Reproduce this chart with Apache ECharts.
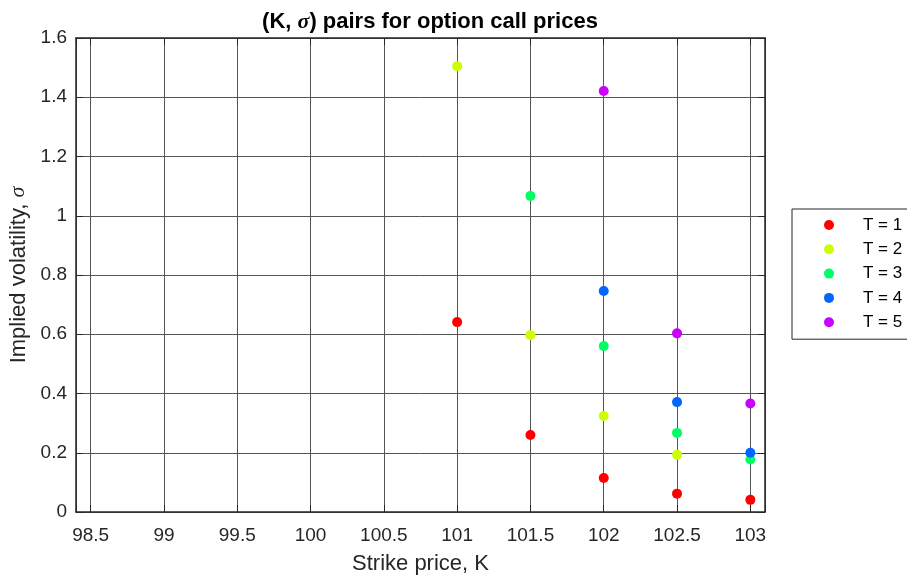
<!DOCTYPE html>
<html>
<head>
<meta charset="utf-8">
<script src="https://cdn.jsdelivr.net/npm/echarts@6/dist/echarts.min.js"></script>
<style>
  html, body { margin: 0; padding: 0; background: #fff; }
  #chart { width: 907px; height: 577px; }
</style>
</head>
<body>
<div id="chart"></div>
<script>
// Strike prices and implied volatilities for each maturity
const seriesNames = ['T = 1', 'T = 2', 'T = 3', 'T = 4', 'T = 5'];
const strikesT1 = [101, 101.5, 102, 102.5, 103];
const volT1 = [0.641, 0.260, 0.115, 0.062, 0.041];
const strikesT2 = [101, 101.5, 102, 102.5];
const volT2 = [1.505, 0.597, 0.324, 0.193];
const strikesT3 = [101.5, 102, 102.5, 103];
const volT3 = [1.067, 0.560, 0.267, 0.177];
const strikesT4 = [102, 102.5, 103];
const volT4 = [0.746, 0.371, 0.200];
const strikesT5 = [102, 102.5, 103];
const volT5 = [1.421, 0.603, 0.366];
const colors = ['#ff0000', '#ccff00', '#00ff66', '#0066ff', '#cc00ff'];

const strikes = [strikesT1, strikesT2, strikesT3, strikesT4, strikesT5];
const vols = [volT1, volT2, volT3, volT4, volT5];

const FONT = "'Liberation Sans', Arial, Helvetica, sans-serif";
const SERIF = "'Liberation Serif', 'DejaVu Serif', serif";
const INK = '#262626';

const xRange = { min: 98.4, max: 103.1 };
const yRange = { min: 0, max: 1.6 };

// only label the half-unit strikes (the axis ends are not labelled)
function xLabel(v) {
  const r = Math.round(v * 2) / 2;
  return Math.abs(r - v) < 1e-6 ? String(r) : '';
}

const axisLineStyle = { show: true, onZero: false, lineStyle: { color: INK, width: 1.5 } };
const tickStyle = { show: true, inside: true, length: 7, lineStyle: { color: INK, width: 1 } };

const chart = echarts.init(document.getElementById('chart'), null, { renderer: 'canvas' });

chart.setOption({
  animation: false,
  backgroundColor: '#ffffff',
  title: {
    text: '{a|(K, }{s|σ}{a|) pairs for option call prices}',
    left: 425,
    top: 6,
    textAlign: 'center',
    textStyle: {
      rich: {
        a: { fontFamily: FONT, fontWeight: 'bold', fontSize: 22, color: '#000' },
        s: { fontFamily: SERIF, fontStyle: 'italic', fontSize: 22, color: '#000' }
      }
    }
  },
  legend: {
    data: seriesNames,
    orient: 'vertical',
    left: 792,
    top: 209,
    padding: [6, 40, 7, 32],
    itemWidth: 10,
    itemHeight: 10,
    itemGap: 4.3,
    icon: 'circle',
    borderColor: INK,
    borderWidth: 1,
    backgroundColor: '#fff',
    textStyle: { fontFamily: FONT, fontSize: 17, color: '#000', lineHeight: 20, padding: [0, 0, 0, 24] }
  },
  grid: { left: 76, top: 38, width: 689, height: 474, containLabel: false, outerBoundsMode: 'none' },
  xAxis: [
    {
      type: 'value',
      min: xRange.min,
      max: xRange.max,
      splitNumber: 9,
      minInterval: 0.5,
      maxInterval: 0.5,
      position: 'bottom',
      name: 'Strike price, K',
      nameLocation: 'middle',
      nameGap: 41,
      nameTextStyle: { fontFamily: FONT, fontSize: 22, color: INK },
      axisLine: axisLineStyle,
      axisTick: tickStyle,
      axisLabel: { formatter: xLabel, fontFamily: FONT, fontSize: 19, color: INK, margin: 14, showMinLabel: true, showMaxLabel: true },
      splitLine: { show: true, lineStyle: { color: '#555', width: 1 } }
    },
    {
      type: 'value',
      min: xRange.min,
      max: xRange.max,
      splitNumber: 9,
      minInterval: 0.5,
      maxInterval: 0.5,
      position: 'top',
      axisLine: axisLineStyle,
      axisTick: tickStyle,
      axisLabel: { show: false },
      splitLine: { show: false }
    }
  ],
  yAxis: [
    {
      type: 'value',
      min: yRange.min,
      max: yRange.max,
      interval: 0.2,
      position: 'left',
      name: '{a|Implied volatility, }{s|σ}',
      nameLocation: 'middle',
      nameGap: 40,
      nameRotate: 90,
      nameTextStyle: {
        rich: {
          a: { fontFamily: FONT, fontSize: 22, color: INK },
          s: { fontFamily: SERIF, fontStyle: 'italic', fontSize: 22, color: INK }
        }
      },
      axisLine: axisLineStyle,
      axisTick: tickStyle,
      axisLabel: { fontFamily: FONT, fontSize: 19, color: INK, margin: 9, formatter: v => String(Math.round(v * 10) / 10) },
      splitLine: { show: true, lineStyle: { color: '#555', width: 1 } }
    },
    {
      type: 'value',
      min: yRange.min,
      max: yRange.max,
      interval: 0.2,
      position: 'right',
      axisLine: axisLineStyle,
      axisTick: tickStyle,
      axisLabel: { show: false },
      splitLine: { show: false }
    }
  ],
  series: seriesNames.map((name, i) => ({
    name: name,
    type: 'scatter',
    xAxisIndex: 0,
    yAxisIndex: 0,
    symbol: 'circle',
    symbolSize: 10,
    itemStyle: { color: colors[i], opacity: 1 },
    data: strikes[i].map((k, j) => [k, vols[i][j]]),
    z: 5
  }))
});
</script>
</body>
</html>
